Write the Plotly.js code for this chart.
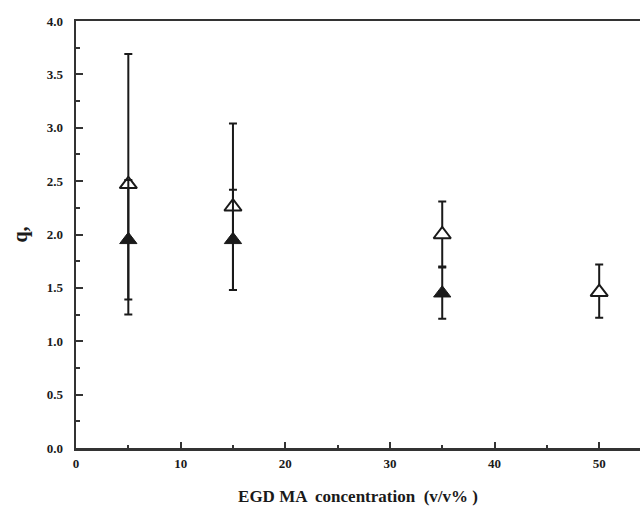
<!DOCTYPE html>
<html>
<head>
<meta charset="utf-8">
<script src="https://cdn.plot.ly/plotly-3.0.1.min.js"></script>
<style>html,body{margin:0;padding:0;background:#fff;}#chart{width:640px;height:513px;}</style>
</head>
<body>
<div id="chart"></div>
<script>
// EGDMA concentration (v/v%)
var xOpen = [5, 15, 35, 50];
var yOpen = [2.47, 2.26, 2.00, 1.46];
var openErrPlus = [1.22, 0.78, 0.31, 0.26];
var openErrMinus = [1.22, 0.78, 0.30, 0.24];

var xFilled = [5, 15, 35];
var yFilled = [1.95, 1.95, 1.45];
var filledErrPlus = [0.56, 0.47, 0.24];
var filledErrMinus = [0.56, 0.47, 0.24];

var xTickVals = [0, 10, 20, 30, 40, 50];
var yTickVals = [0, 0.5, 1, 1.5, 2, 2.5, 3, 3.5, 4];

var ink = '#1a1a1a';
var fontFam = '"Liberation Serif", "DejaVu Serif", serif';

var traces = [
  {
    x: xOpen, y: yOpen, type: 'scatter', mode: 'markers',
    marker: {symbol: 'triangle-up', size: 15, color: '#ffffff', line: {color: ink, width: 2}},
    error_y: {type: 'data', symmetric: false, array: openErrPlus, arrayminus: openErrMinus,
              color: ink, thickness: 2, width: 4},
    showlegend: false, hoverinfo: 'x+y'
  },
  {
    x: xFilled, y: yFilled, type: 'scatter', mode: 'markers',
    marker: {symbol: 'triangle-up', size: 15, color: ink, line: {color: ink, width: 1}},
    error_y: {type: 'data', symmetric: false, array: filledErrPlus, arrayminus: filledErrMinus,
              color: ink, thickness: 2, width: 4},
    showlegend: false, hoverinfo: 'x+y'
  }
];

var layout = {
  width: 640, height: 513,
  margin: {l: 76, r: 0, t: 21, b: 65},
  paper_bgcolor: '#ffffff', plot_bgcolor: '#ffffff',
  font: {family: fontFam, color: ink},
  xaxis: {
    range: [0, 53.9], showgrid: false, zeroline: false,
    showline: true, linecolor: '#333', linewidth: 2.5, mirror: true,
    ticks: 'inside', ticklen: 6, tickwidth: 2, tickcolor: '#333',
    tickvals: xTickVals, ticktext: xTickVals.map(String),
    minor: {dtick: 5, tick0: 0, ticks: 'inside', ticklen: 3, tickwidth: 2, tickcolor: '#333'},
    tickfont: {family: fontFam, size: 13, color: ink, weight: 'bold'},
    ticklabelstandoff: 2,
    title: {text: 'EGD MA  concentration  (v/v% )', font: {family: fontFam, size: 17, color: ink, weight: 'bold'}, standoff: 20}
  },
  yaxis: {
    range: [0, 4], showgrid: false, zeroline: false,
    showline: true, linecolor: '#333', linewidth: 2.5, mirror: false,
    ticks: 'inside', ticklen: 7, tickwidth: 2, tickcolor: '#333',
    tickvals: yTickVals, tickformat: '.1f',
    minor: {dtick: 0.25, tick0: 0, ticks: 'inside', ticklen: 4, tickwidth: 2, tickcolor: '#333'},
    tickfont: {family: fontFam, size: 13, color: ink, weight: 'bold'},
    ticklabelstandoff: 8,
    title: {text: 'q,', font: {family: fontFam, size: 20, color: ink, weight: 'bold'}, standoff: 14}
  }
};

Plotly.newPlot('chart', traces, layout, {displayModeBar: false, staticPlot: true});
</script>
</body>
</html>
